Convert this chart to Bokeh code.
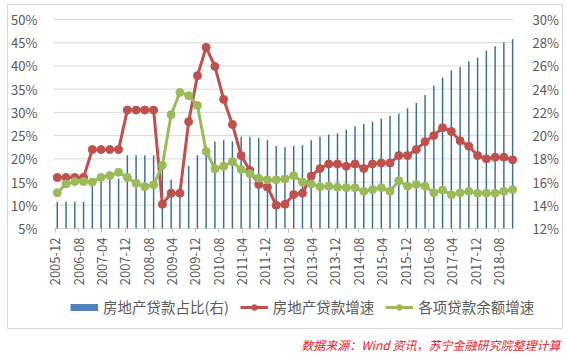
import math
from bokeh.plotting import figure
from bokeh.models import (Range1d, LinearAxis, FixedTicker, PrintfTickFormatter,
                          Legend, LegendItem, Title, BoxAnnotation)
from bokeh.embed import file_html
from bokeh.resources import INLINE

quarters = [
    "2005-12",
    "2006-03", "2006-06", "2006-09", "2006-12",
    "2007-03", "2007-06", "2007-09", "2007-12",
    "2008-03", "2008-06", "2008-09", "2008-12",
    "2009-03", "2009-06", "2009-09", "2009-12",
    "2010-03", "2010-06", "2010-09", "2010-12",
    "2011-03", "2011-06", "2011-09", "2011-12",
    "2012-03", "2012-06", "2012-09", "2012-12",
    "2013-03", "2013-06", "2013-09", "2013-12",
    "2014-03", "2014-06", "2014-09", "2014-12",
    "2015-03", "2015-06", "2015-09", "2015-12",
    "2016-03", "2016-06", "2016-09", "2016-12",
    "2017-03", "2017-06", "2017-09", "2017-12",
    "2018-03", "2018-06", "2018-09", "2018-12",
]

# 房地产贷款占比(右) - right axis, %
share_right = [
    14.3,
    14.3, 14.3, 14.3, 16.2,
    16.2, 16.2, 16.3, 18.3,
    18.3, 18.3, 18.3, 17.5,
    16.2, 14.9, 17.4, 18.3,
    18.8, 19.5, 19.6, 19.5,
    19.9, 19.9, 19.8, 19.6,
    19.1, 19.0, 19.1, 19.2,
    19.6, 19.9, 20.1, 20.2,
    20.5, 20.8, 21.0, 21.2,
    21.45, 21.7, 21.9, 22.35,
    22.8, 23.5, 24.3, 25.0,
    25.6, 25.9, 26.4, 26.7,
    27.3, 27.7, 28.05, 28.3,
]

# 房地产贷款增速 - left axis, %
re_growth = [
    16.0,
    16.0, 16.0, 16.0, 22.0,
    22.0, 22.0, 22.0, 30.5,
    30.5, 30.5, 30.5, 10.2,
    12.6, 12.6, 28.0, 37.9,
    44.0, 39.9, 32.8, 27.4,
    20.7, 17.5, 14.5, 13.9,
    10.0, 10.2, 12.3, 12.6,
    16.3, 17.9, 18.9, 18.9,
    18.4, 18.9, 17.9, 18.9,
    19.1, 19.1, 20.7, 20.7,
    22.0, 23.7, 25.0, 26.7,
    25.9, 23.9, 22.7, 20.7,
    20.0, 20.35, 20.35, 19.8,
]

# 各项贷款余额增速 - left axis, %
loan_growth = [
    12.7,
    14.6, 15.1, 15.1, 15.0,
    16.0, 16.4, 17.1, 16.0,
    14.75, 14.0, 14.4, 18.6,
    29.5, 34.3, 33.6, 31.5,
    21.6, 17.85, 18.4, 19.4,
    17.7, 16.8, 15.8, 15.5,
    15.5, 15.7, 16.4, 15.0,
    14.6, 14.0, 14.1, 13.9,
    13.8, 13.8, 13.0, 13.4,
    13.8, 13.0, 15.3, 14.1,
    14.5, 14.1, 12.7, 13.3,
    12.25, 12.7, 13.0, 12.6,
    12.6, 12.6, 13.0, 13.4,
]

xtick_labels = [
    "2005-12", "2006-08", "2007-04", "2007-12", "2008-08", "2009-04",
    "2009-12", "2010-08", "2011-04", "2011-12", "2012-08", "2013-04",
    "2013-12", "2014-08", "2015-04", "2015-12", "2016-08", "2017-04",
    "2017-12", "2018-08",
]

left_ticks = [5, 10, 15, 20, 25, 30, 35, 40, 45, 50]
right_ticks = [12, 14, 16, 18, 20, 22, 24, 26, 28, 30]

legend_labels = ["房地产贷款占比(右)", "房地产贷款增速", "各项贷款余额增速"]
source_text = "数据来源：Wind 资讯，苏宁金融研究院整理计算"

FONT = "Noto Sans CJK SC"
TXT = "#595959"


def month_pos(s):
    y, m = s.split("-")
    return (int(y) - 2005) * 12 + int(m) - 12


x = [month_pos(q) + 0.7 for q in quarters]

# ---- geometry (pixels) ----
W, H = 567, 353
BOTTOM_PANEL = 20                 # strip for the source note
FRAME_H = H - BOTTOM_PANEL        # frame covers the canvas above the note
AREA_L, AREA_R = 53, 513          # plot area (value region) edges
AREA_T, AREA_B = 19, 228          # 50% / 5% lines
X_LO, X_HI = -0.6, 157.0          # months at plot area edges
BOX_L, BOX_R, BOX_T, BOX_B = 7, 562, 4, 328   # chart-area border

ppm = (AREA_R - AREA_L) / (X_HI - X_LO)
x0 = X_LO - AREA_L / ppm
xr = Range1d(x0, X_HI + (W - AREA_R) / ppm)

l_lo, l_hi = left_ticks[0], left_ticks[-1]
r_lo, r_hi = right_ticks[0], right_ticks[-1]
lpp = (l_hi - l_lo) / (AREA_B - AREA_T)
rpp = (r_hi - r_lo) / (AREA_B - AREA_T)
y_top = l_hi + AREA_T * lpp
yr = Range1d(l_lo - (FRAME_H - AREA_B) * lpp, y_top)
yr_r = Range1d(r_lo - (FRAME_H - AREA_B) * rpp, r_hi + AREA_T * rpp)

p = figure(width=W, height=H, x_range=xr, y_range=yr,
           output_backend="svg", toolbar_location=None,
           min_border_left=0, min_border_right=0, min_border_top=0,
           min_border_bottom=BOTTOM_PANEL)
p.outline_line_color = None
p.background_fill_color = "white"
p.border_fill_color = "white"
p.extra_y_ranges = {"r": yr_r}

# chart-area border
p.add_layout(BoxAnnotation(left=x0 + BOX_L / ppm, right=x0 + BOX_R / ppm,
                           top=y_top - BOX_T * lpp, bottom=y_top - BOX_B * lpp,
                           fill_alpha=0, line_color="#d9d9d9", line_alpha=1.0,
                           line_width=1, level="underlay"))

# horizontal gridlines restricted to the plot area
p.xgrid.grid_line_color = None
p.ygrid.grid_line_color = None
p.segment(x0=[X_LO] * len(left_ticks), x1=[X_HI] * len(left_ticks),
          y0=left_ticks, y1=left_ticks, line_color="#d9d9d9", line_width=1)

# x axis
xa = p.xaxis[0]
xa.fixed_location = l_lo
xa.ticker = FixedTicker(ticks=[month_pos(l) for l in xtick_labels])
xa.major_label_overrides = {month_pos(l): l for l in xtick_labels}
xa.major_label_orientation = math.pi / 2
xa.minor_tick_line_color = None
xa.major_tick_in = 0
xa.major_tick_out = 4
xa.major_label_standoff = 5
xa.axis_line_color = None
xa.major_tick_line_color = "#bfbfbf"
xa.major_label_text_font = FONT
xa.major_label_text_font_size = "13px"
xa.major_label_text_color = TXT

# left y axis
ya = p.yaxis[0]
ya.fixed_location = X_LO
ya.ticker = FixedTicker(ticks=left_ticks)
ya.formatter = PrintfTickFormatter(format="%d%%")
ya.axis_line_color = None
ya.major_tick_line_color = None
ya.minor_tick_line_color = None
ya.major_label_standoff = 10
ya.major_label_text_font = FONT
ya.major_label_text_font_size = "13px"
ya.major_label_text_color = TXT

# right y axis
ra = LinearAxis(y_range_name="r", ticker=FixedTicker(ticks=right_ticks),
                formatter=PrintfTickFormatter(format="%d%%"))
ra.fixed_location = X_HI
ra.axis_line_color = None
ra.major_tick_line_color = None
ra.minor_tick_line_color = None
ra.major_label_standoff = 13
ra.major_label_text_font = FONT
ra.major_label_text_font_size = "13px"
ra.major_label_text_color = TXT
p.add_layout(ra, "right")

# bars
p.vbar(x=x, top=share_right, bottom=r_lo, width=0.5, y_range_name="r",
       fill_color="#3b6f8f", line_color=None)
# legend proxy for the bars (a one-point line draws nothing on the plot)
legend_bar = p.line(x=x[:1], y=share_right[:1], y_range_name="r",
                    line_width=7, line_color="#4f81bd", line_cap="butt")

# lines
RED = "#c0504d"
GREEN = "#9bbb59"
r1 = p.line(x, re_growth, line_color=RED, line_width=3)
s1 = p.scatter(x, re_growth, size=8, fill_color=RED, line_color=RED)
r2 = p.line(x, loan_growth, line_color=GREEN, line_width=3)
s2 = p.scatter(x, loan_growth, size=8, fill_color=GREEN, line_color=GREEN)

legend = Legend(items=[
    LegendItem(label=legend_labels[0], renderers=[legend_bar]),
    LegendItem(label=legend_labels[1], renderers=[r1, s1]),
    LegendItem(label=legend_labels[2], renderers=[r2, s2]),
], orientation="horizontal", location=(70, 16))
legend.label_text_font = FONT
legend.label_text_font_size = "14.5px"
legend.label_text_color = TXT
legend.glyph_width = 28
legend.glyph_height = 14
legend.label_standoff = 5
legend.spacing = 11
legend.padding = 2
legend.margin = 0
legend.border_line_color = None
legend.background_fill_alpha = 0
p.add_layout(legend, "center")

src = Title(text=source_text, align="right", text_color="#e8202a",
            text_font_style="italic", text_font_size="12px", text_font=FONT,
            offset=7, standoff=0)
p.add_layout(src, "below")

open("out.html", "w").write(file_html(p, INLINE))
